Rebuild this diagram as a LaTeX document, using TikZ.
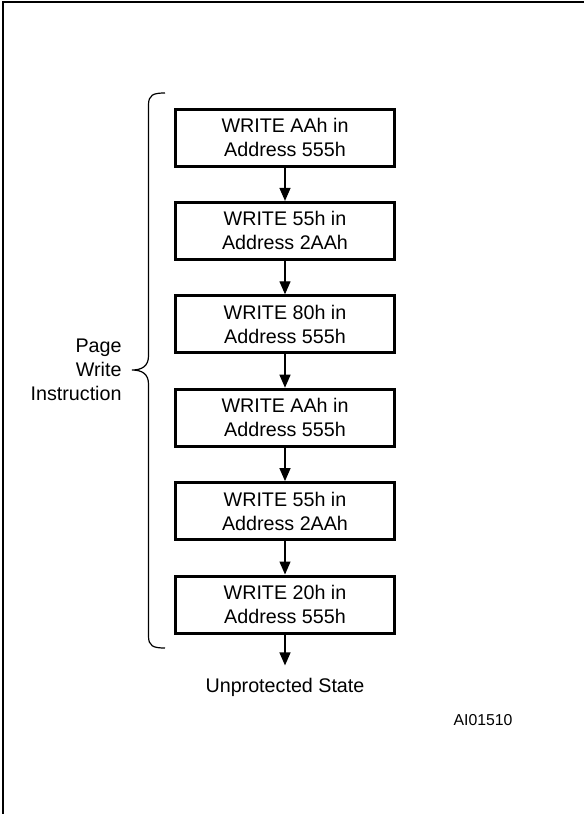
\documentclass[tikz,border=0pt]{standalone}
\usepackage{fontspec}
\setmainfont{Liberation Sans}
\usetikzlibrary{arrows.meta}

\begin{document}
\begin{tikzpicture}[x=0.5pt, y=-0.5pt,
    font=\fontsize{9.85}{12}\selectfont,
    instr/.style={draw=black, line width=1.5pt, minimum width=109.5pt, minimum height=28.5pt, inner sep=1pt, align=center},
    flow/.style={-{Triangle[length=6.5pt, width=5.5pt]}, line width=.65pt}]
        \useasboundingbox (0,0) rectangle (584,814);
        % frame
        \draw[line width=1pt] (2.7,814) -- (2.7,2) -- (584,2);
        \node[instr] (S1) at (285,137.5) {WRITE AAh in\\Address 555h};
        \node[instr] (S2) at (285,230.9) {WRITE 55h in\\Address 2AAh};
        \node[instr] (S3) at (285,324.3) {WRITE 80h in\\Address 555h};
        \node[instr] (S4) at (285,417.7) {WRITE AAh in\\Address 555h};
        \node[instr] (S5) at (285,511.1) {WRITE 55h in\\Address 2AAh};
        \node[instr] (S6) at (285,604.5) {WRITE 20h in\\Address 555h};
        \node[inner sep=6pt] (U) at (285,687) {Unprotected State};
        \node[font=\fontsize{7.9}{9.5}\selectfont] (ID) at (483,720.5) {AI01510};
        \draw[flow] (S1) -- (S2);
        \draw[flow] (S2) -- (S3);
        \draw[flow] (S3) -- (S4);
        \draw[flow] (S4) -- (S5);
        \draw[flow] (S5) -- (S6);
        \draw[flow] (S6) -- (U.north);
        % brace
        \draw[line width=.6pt] (165,93) .. controls (153,93) and (148.5,95) .. (148.5,105)
            -- (148.5,356) .. controls (148.5,366) and (142,370) .. (132,370)
            .. controls (142,370) and (148.5,374) .. (148.5,384)
            -- (148.5,636) .. controls (148.5,646) and (153,648) .. (165,648);
        \node[align=right, anchor=east] (PW) at (128.6,370) {Page\\Write\\Instruction};
    \end{tikzpicture}
\end{document}
